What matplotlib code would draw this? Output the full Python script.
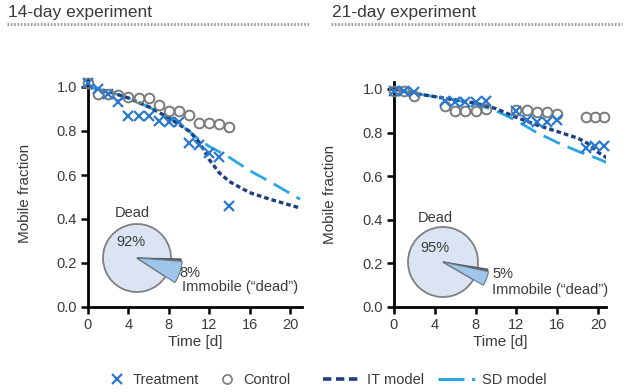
import matplotlib
matplotlib.use("Agg")
import matplotlib.pyplot as plt
from matplotlib.lines import Line2D
from matplotlib.ticker import FormatStrFormatter

plt.rcParams['font.family'] = ['Liberation Sans', 'DejaVu Sans']

# ---------------- data ----------------
days14 = [0, 1, 2, 3, 4, 5, 6, 7, 8, 9, 10, 11, 12, 13, 14]
treat14 = [1.02, 0.99, 0.97, 0.93, 0.87, 0.87, 0.87, 0.845, 0.84, 0.84, 0.745, 0.735, 0.70, 0.68, 0.46]
ctrl14 = [1.02, 0.97, 0.97, 0.965, 0.955, 0.95, 0.95, 0.92, 0.89, 0.89, 0.875, 0.835, 0.835, 0.83, 0.82]
it14_d = [0, 2, 4, 6, 8, 9, 10, 11, 12, 13, 14, 16, 18, 21]
it14_v = [1.0, 0.98, 0.95, 0.91, 0.86, 0.83, 0.80, 0.75, 0.67, 0.61, 0.57, 0.52, 0.49, 0.45]
sd14_d = [0, 2, 4, 6, 8, 10, 11, 12, 14, 16, 18, 21]
sd14_v = [1.0, 0.98, 0.95, 0.91, 0.86, 0.80, 0.76, 0.73, 0.68, 0.62, 0.57, 0.49]

days21_t = [0, 1, 2, 5, 6, 7, 8, 9, 12, 13, 14, 15, 16, 18.8, 19.7, 20.6]
treat21 = [0.99, 0.99, 0.985, 0.945, 0.94, 0.94, 0.94, 0.945, 0.90, 0.86, 0.85, 0.85, 0.86, 0.73, 0.74, 0.74]
days21_c = [0, 1, 2, 5, 6, 7, 8, 9, 12, 13, 14, 15, 16, 18.8, 19.7, 20.6]
ctrl21 = [0.99, 0.99, 0.97, 0.92, 0.90, 0.90, 0.90, 0.91, 0.905, 0.905, 0.895, 0.895, 0.885, 0.87, 0.87, 0.87]
it21_d = [0, 2, 4, 6, 8, 10, 12, 14, 16, 18, 19, 20, 21]
it21_v = [1.0, 0.98, 0.965, 0.95, 0.935, 0.91, 0.87, 0.835, 0.805, 0.775, 0.75, 0.71, 0.68]
sd21_d = [0, 2, 4, 6, 8, 10, 12, 14, 16, 18, 20, 21]
sd21_v = [1.0, 0.98, 0.965, 0.95, 0.93, 0.90, 0.855, 0.80, 0.755, 0.715, 0.68, 0.66]

pie14 = [8, 92]
pie21 = [5, 95]
pie14_labels = ["8%", "92%"]
pie21_labels = ["5%", "95%"]

titles = ["14-day experiment", "21-day experiment"]
xticks = [0, 4, 8, 12, 16, 20]
yticks = [0.0, 0.2, 0.4, 0.6, 0.8, 1.0]

# ---------------- styling ----------------
W, H = 630, 392
TXT = '#3a3a3a'
BLUE = '#2a78d0'
GRAY = '#7a7a7a'
NAVY = '#1f3f80'
LIGHT = '#2aa6e0'
IT_DASH = (1.4, 0.9)
SD_DASH = (6.5, 3.0)

fig = plt.figure(figsize=(W / 100, H / 100), dpi=100)


def fx(px):
    return px / W


def fy(py):
    return 1 - py / H


def make_axes(x0px, xmax, pxperday, y0px, pxperunit, ytop):
    width = xmax * pxperday
    height = ytop * pxperunit
    ax = fig.add_axes([fx(x0px), fy(y0px), width / W, height / H])
    ax.set_xlim(0, xmax)
    ax.set_ylim(0, ytop)
    return ax


axL = make_axes(88, 21.2, 10.1, 307, 220, 1.03)
axR = make_axes(394, 20.8, 10.2, 307, 218, 1.03)

panels = [
    (axL, days14, treat14, days14, ctrl14, it14_d, it14_v, sd14_d, sd14_v),
    (axR, days21_t, treat21, days21_c, ctrl21, it21_d, it21_v, sd21_d, sd21_v),
]

for ax, dt, tv, dc, cv, itd, itv, sdd, sdv in panels:
    ax.plot(sdd, sdv, color=LIGHT, lw=2.0, dashes=SD_DASH, zorder=2)
    ax.plot(itd, itv, color=NAVY, lw=2.4, dashes=IT_DASH, zorder=3)
    ax.plot(dc, cv, linestyle='none', marker='o', ms=7, mfc='none', mec=GRAY,
            mew=1.4, clip_on=False, zorder=4)
    ax.plot(dt, tv, linestyle='none', marker='x', ms=7, mec=BLUE, mew=1.6,
            clip_on=False, zorder=5)
    for s in ['top', 'right']:
        ax.spines[s].set_visible(False)
    for s in ['left', 'bottom']:
        ax.spines[s].set_linewidth(2.0)
    ax.set_xticks(xticks)
    ax.set_yticks(yticks)
    ax.yaxis.set_major_formatter(FormatStrFormatter('%.1f'))
    ax.tick_params(direction='out', length=5, width=1.8, labelsize=10.5,
                   labelcolor=TXT, pad=3)
    ax.set_xlabel('Time [d]', fontsize=11, color=TXT, labelpad=2)
    ax.set_ylabel('Mobile fraction', fontsize=11, color=TXT)

axL.yaxis.set_label_coords(-0.262, 0.5)
axR.yaxis.set_label_coords(-0.269, 0.5)

# titles with dotted underline
fig.text(fx(8), fy(12), titles[0], fontsize=12.5, color=TXT, va='center', ha='left')
fig.text(fx(332), fy(12), titles[1], fontsize=12.5, color=TXT, va='center', ha='left')
fig.add_artist(Line2D([fx(7), fx(310)], [fy(24), fy(24)], color='#9a9a9a', lw=2,
                      linestyle=(0, (0.6, 0.6))))
fig.add_artist(Line2D([fx(331), fx(622)], [fy(24), fy(24)], color='#9a9a9a', lw=2,
                      linestyle=(0, (0.6, 0.6))))


# ---------------- pies ----------------
def draw_pie(cx, cy, r, vals, labels, start, lab_pos):
    k = 1.5
    pax = fig.add_axes([fx(cx - k * r), fy(cy + k * r), 2 * k * r / W, 2 * k * r / H])
    # base pie (big slice)
    w1, _ = pax.pie(vals, radius=1.0, startangle=start, counterclock=True,
                    colors=['none', '#dbe4f2'],
                    wedgeprops=dict(edgecolor='#808080', linewidth=1.3))
    w1[0].set_visible(False)
    # dark side of small slice
    w2, _ = pax.pie(vals, radius=1.3, startangle=start + 3, counterclock=True,
                    colors=['#5c5c5c', 'none'],
                    wedgeprops=dict(edgecolor='#5c5c5c', linewidth=0.8))
    w2[1].set_visible(False)
    # small blue slice
    w3, _ = pax.pie(vals, radius=1.33, startangle=start, counterclock=True,
                    colors=['#9fc5ec', 'none'],
                    wedgeprops=dict(edgecolor='#6a7a8a', linewidth=0.8))
    w3[1].set_visible(False)
    pax.set_xlim(-k, k)
    pax.set_ylim(-k, k)
    pax.axis('off')
    (dx, dy), (px_, py_), (sx, sy), (ix, iy) = lab_pos
    pax.text(dx, dy, 'Dead', fontsize=10.5, color=TXT, ha='center', va='center')
    pax.text(px_, py_, labels[1], fontsize=10.5, color=TXT, ha='center', va='center')
    pax.text(sx, sy, labels[0], fontsize=10.5, color=TXT, ha='left', va='center')
    pax.text(ix, iy, 'Immobile (\u201cdead\u201d)', fontsize=10.5, color=TXT,
             ha='left', va='center')


draw_pie(137, 258, 34, pie14, pie14_labels, -33,
         [(-0.15, 1.32), (-0.18, 0.47), (1.26, -0.44), (1.32, -0.84)])
draw_pie(443, 262, 35, pie21, pie21_labels, -30,
         [(-0.23, 1.26), (-0.23, 0.40), (1.4, -0.34), (1.4, -0.8)])

# ---------------- legends ----------------
mk_handles = [
    Line2D([], [], linestyle='none', marker='x', ms=7, mec=BLUE, mew=1.6),
    Line2D([], [], linestyle='none', marker='o', ms=6.5, mfc='none', mec=GRAY, mew=1.2),
]
ln_handles = [
    Line2D([], [], color=NAVY, lw=2.6, dashes=(2.3, 1.3)),
    Line2D([], [], color=LIGHT, lw=2.2, dashes=(8.5, 2.5, 1.0, 20)),
]
leg1 = fig.legend(mk_handles, ['Treatment', 'Control'], loc='center left',
                  bbox_to_anchor=(fx(108), fy(380)), ncol=2, frameon=False,
                  fontsize=10.5, columnspacing=1.3, handlelength=1.2,
                  handletextpad=0.5, borderaxespad=0, borderpad=0)
leg2 = fig.legend(ln_handles, ['IT model', 'SD model'], loc='center left',
                  bbox_to_anchor=(fx(323), fy(380)), ncol=2, frameon=False,
                  fontsize=10.5, columnspacing=1.0, handlelength=2.5,
                  handletextpad=0.5, borderaxespad=0, borderpad=0)
for lg in (leg1, leg2):
    for t in lg.get_texts():
        t.set_color(TXT)

fig.savefig('out.png', dpi=100)
